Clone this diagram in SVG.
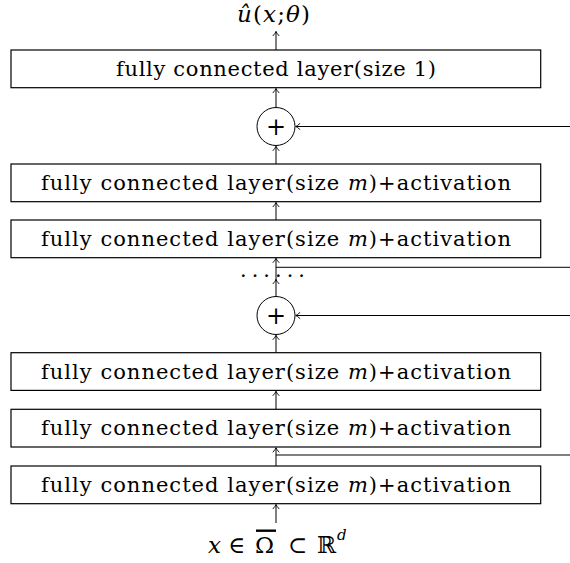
<svg xmlns="http://www.w3.org/2000/svg" width="570" height="563" viewBox="0 0 570 563">
<style>
.box{fill:#fff;stroke:#000;stroke-width:1.2}
.t{font-family:'DejaVu Serif','Liberation Serif',serif;font-size:21px;fill:#000;text-anchor:middle}
.m{font-style:italic}
.c{fill:none;stroke:#000;stroke-width:1}
.a{marker-end:url(#arr)}
</style>
<defs>
<marker id="arr" markerUnits="userSpaceOnUse" markerWidth="12" markerHeight="12" viewBox="-6 -6 12 12" refX="0" refY="0" orient="auto">
<path d="M -4.5 -3.2 Q -1.6 -0.6 0 0 Q -1.6 0.6 -4.5 3.2" fill="none" stroke="#000" stroke-width="0.9"/>
</marker>
</defs>
<g id="connectors">
<line class="c a" x1="276" y1="523" x2="276" y2="504.5"/>
<line class="c a" x1="276" y1="466" x2="276" y2="447.8"/>
<line class="c" x1="276" y1="455" x2="570" y2="455"/>
<line class="c a" x1="276" y1="409.3" x2="276" y2="391.3"/>
<line class="c a" x1="276" y1="352.7" x2="276" y2="335.3"/>
<line class="c a" x1="570" y1="315.5" x2="295.7" y2="315.5"/>
<line class="c a" x1="276" y1="296.5" x2="276" y2="279.5"/>
<line class="c a" x1="276" y1="281" x2="276" y2="258.3"/>
<line class="c" x1="276" y1="267.3" x2="570" y2="267.3"/>
<line class="c a" x1="276" y1="220" x2="276" y2="202.5"/>
<line class="c a" x1="276" y1="164" x2="276" y2="146.3"/>
<line class="c a" x1="570" y1="126.5" x2="295.7" y2="126.5"/>
<line class="c a" x1="276" y1="107.5" x2="276" y2="88.5"/>
<line class="c a" x1="276" y1="50" x2="276" y2="31.5"/>
</g>
<g id="output">
<text class="t" x="273.5" y="22" textLength="73" style="font-size:23px"><tspan class="m">û</tspan>(<tspan class="m">x</tspan>;<tspan class="m">θ</tspan>)</text>
</g>
<g id="fc1">
<rect class="box" x="11" y="50" width="529.7" height="37.7"/>
<text class="t" x="276" y="76" textLength="320">fully connected layer(size 1)</text>
</g>
<g id="add1">
<circle class="c" cx="276" cy="126.5" r="19"/>
<text class="t" x="276" y="134.5" style="font-size:24px">+</text>
</g>
<g id="fc2">
<rect class="box" x="11" y="164" width="529.7" height="37.7"/>
<text class="t" x="276" y="190" textLength="470">fully connected layer(size <tspan class="m">m</tspan>)+activation</text>
</g>
<g id="fc3">
<rect class="box" x="11" y="220" width="529.7" height="37.7"/>
<text class="t" x="276" y="246" textLength="470">fully connected layer(size <tspan class="m">m</tspan>)+activation</text>
</g>
<g id="dots">
<text class="t" x="243.3 255 266.7 278.3 290 301.7" y="283">······</text>
</g>
<g id="add2">
<circle class="c" cx="276" cy="315.5" r="19"/>
<text class="t" x="276" y="323.5" style="font-size:24px">+</text>
</g>
<g id="fc4">
<rect class="box" x="11" y="352.7" width="529.7" height="37.7"/>
<text class="t" x="276" y="378.7" textLength="470">fully connected layer(size <tspan class="m">m</tspan>)+activation</text>
</g>
<g id="fc5">
<rect class="box" x="11" y="409.3" width="529.7" height="37.7"/>
<text class="t" x="276" y="435.3" textLength="470">fully connected layer(size <tspan class="m">m</tspan>)+activation</text>
</g>
<g id="fc6">
<rect class="box" x="11" y="466" width="529.7" height="37.7"/>
<text class="t" x="276" y="492" textLength="470">fully connected layer(size <tspan class="m">m</tspan>)+activation</text>
</g>
<g id="input">
<text class="t" y="553" style="font-size:23px;text-anchor:start"><tspan class="m" x="208">x</tspan><tspan x="228">∈</tspan><tspan x="255">Ω</tspan><tspan x="288">⊂</tspan><tspan x="317">ℝ</tspan></text>
<text class="t m" x="337" y="540" style="font-size:15px;text-anchor:start">d</text>
<rect x="256" y="529.5" width="20" height="2.4" fill="#000"/>
</g>
</svg>
